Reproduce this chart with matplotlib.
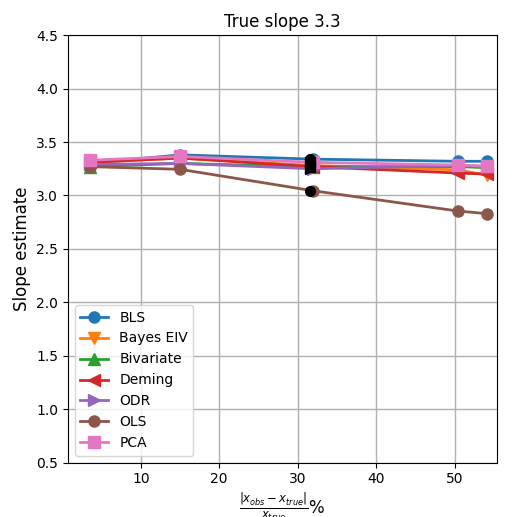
import numpy as np
import matplotlib.pyplot as plt

# relative error of x, percent
err_pct = [3.5, 15.0, 31.9, 50.4, 54.2]

methods = ["BLS", "Bayes EIV", "Bivariate", "Deming", "ODR", "OLS", "PCA"]
markers = ["o", "v", "^", "<", ">", "o", "s"]

bls = [3.30, 3.38, 3.34, 3.32, 3.32]
bayes_eiv = [3.31, 3.35, 3.28, 3.24, 3.19]
bivariate = [3.27, 3.30, 3.27, 3.27, 3.26]
deming = [3.31, 3.35, 3.27, 3.21, 3.20]
odr = [3.29, 3.30, 3.25, 3.28, 3.27]
ols = [3.27, 3.245, 3.045, 2.855, 2.83]
pca = [3.33, 3.365, 3.31, 3.285, 3.275]

series = [bls, bayes_eiv, bivariate, deming, odr, ols, pca]
colors = plt.rcParams['axes.prop_cycle'].by_key()['color']

fig, ax = plt.subplots(figsize=(5.06, 5.17), dpi=100)

for i, (name, vals) in enumerate(zip(methods, series)):
    ax.plot(err_pct, vals, marker=markers[i], color=colors[i], lw=2,
            markersize=8, label=name)

# black markers for the middle point of each method
for i, vals in enumerate(series):
    ax.plot(err_pct[2] - 0.3, vals[2], marker=markers[i], color="black",
            markersize=7, linestyle="none")

ax.set_xlim(0.7, 55.4)
ax.set_ylim(0.5, 4.5)
ax.set_yticks(np.arange(0.5, 4.51, 0.5))
ax.set_xticks([10, 20, 30, 40, 50])
ax.grid(True, color="#b0b0b0", lw=1)
ax.set_axisbelow(True)

ax.set_title("True slope 3.3", fontsize=12)
ax.set_ylabel("Slope estimate", fontsize=12)
ax.set_xlabel(r"$\frac{|x_{obs} - x_{true}|}{x_{true}}$%", fontsize=12)
ax.legend(loc="lower left", fontsize=10)

plt.subplots_adjust(left=0.134, right=0.982, top=0.932, bottom=0.105)
plt.savefig("out.png", dpi=100)
plt.close()
